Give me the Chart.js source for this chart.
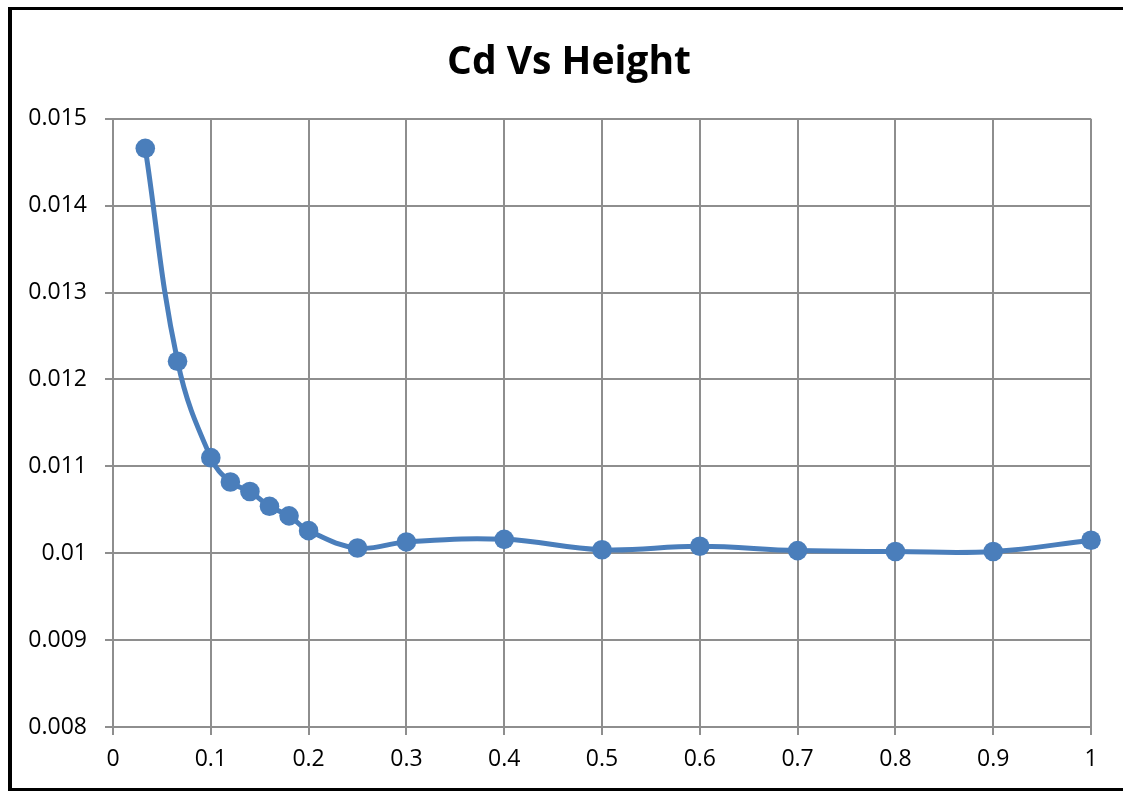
<!DOCTYPE html>
<html>
<head>
<meta charset="utf-8">
<title>Cd Vs Height</title>
<script src="https://cdn.jsdelivr.net/npm/chart.js@4.4.1/dist/chart.umd.min.js"></script>
<style>
  html, body { margin: 0; padding: 0; background: #fff; overflow: hidden; }
  #wrap { position: relative; width: 1123px; height: 792px; }
  #frame {
    position: absolute; left: 8px; top: 7px; width: 1200px; height: 778px;
    border-left: 4px solid #000; border-top: 3px solid #000; border-bottom: 3px solid #000;
  }
  #chart-cd { position: absolute; left: 0; top: 0; }
</style>
</head>
<body>
<div id="wrap">
  <div id="frame"></div>
  <canvas id="chart-cd" width="1123" height="792"></canvas>
</div>
<script>
// Valores
const heights = [0.033, 0.066, 0.1, 0.12, 0.14, 0.16, 0.18, 0.2, 0.25, 0.3, 0.4, 0.5, 0.6, 0.7, 0.8, 0.9, 1];
const cdValues = [0.01466, 0.01221, 0.01110, 0.01082, 0.01071, 0.01054, 0.01043, 0.01026,
                  0.01006, 0.01013, 0.01016, 0.01004, 0.01008, 0.01003, 0.01002, 0.01002, 0.01015];

// Ejes
const xTickValues = [0, 0.1, 0.2, 0.3, 0.4, 0.5, 0.6, 0.7, 0.8, 0.9, 1];
const xTickLabels = ['0', '0.1', '0.2', '0.3', '0.4', '0.5', '0.6', '0.7', '0.8', '0.9', '1'];
const yTickValues = [0.008, 0.009, 0.010, 0.011, 0.012, 0.013, 0.014, 0.015];
const yTickLabels = ['0.008', '0.009', '0.01', '0.011', '0.012', '0.013', '0.014', '0.015'];

const chartTitle = 'Cd Vs Height';

const gridColor = '#8e8e8e';
const lineColor = '#4a7ebb';
const tickFont = { family: '"Open Sans", sans-serif', size: 23 };

const ctx = document.getElementById('chart-cd');

new Chart(ctx, {
  type: 'scatter',
  data: {
    datasets: [{
      label: 'Cd',
      data: heights.map((h, i) => ({ x: h, y: cdValues[i] })),
      showLine: true,
      tension: 0.4,
      borderColor: lineColor,
      backgroundColor: lineColor,
      borderWidth: 5,
      pointRadius: 9.8,
      pointBorderWidth: 0,
      pointBackgroundColor: lineColor,
      clip: false
    }]
  },
  options: {
    responsive: false,
    animation: false,
    layout: {
      padding: { left: 20, right: 5, top: 0, bottom: 0 }
    },
    plugins: {
      legend: { display: false },
      tooltip: { enabled: false },
      title: {
        display: true,
        text: chartTitle,
        color: '#000',
        font: { family: '"Open Sans", sans-serif', size: 39, weight: 'bold', lineHeight: 1.2 },
        padding: { top: 39, bottom: 33 }
      }
    },
    scales: {
      x: {
        type: 'linear',
        min: 0,
        max: 1,
        afterBuildTicks: (scale) => { scale.ticks = xTickValues.map(v => ({ value: v })); },
        afterFit: (scale) => { scale.height = 65; },
        ticks: {
          color: '#000',
          font: tickFont,
          padding: 11,
          maxRotation: 0,
          autoSkip: false,
          callback: (v, i) => xTickLabels[i]
        },
        grid: { color: gridColor, lineWidth: 2, tickLength: 8, drawTicks: true },
        border: { color: gridColor, width: 2 }
      },
      y: {
        type: 'linear',
        position: 'left',
        min: 0.008,
        max: 0.015,
        afterBuildTicks: (scale) => { scale.ticks = yTickValues.map(v => ({ value: v })); },
        afterFit: (scale) => { scale.width = 93; },
        ticks: {
          color: '#000',
          font: tickFont,
          padding: 18,
          autoSkip: false,
          callback: (v, i) => yTickLabels[i]
        },
        grid: { color: gridColor, lineWidth: 2, tickLength: 8, drawTicks: true },
        border: { color: gridColor, width: 2 }
      },
      // espacio vacio a la derecha (el marco original sigue fuera de la imagen)
      yRight: {
        type: 'linear',
        position: 'right',
        display: true,
        afterFit: (scale) => { scale.width = 27; },
        ticks: { display: false },
        grid: { display: false },
        border: { display: false }
      }
    }
  }
});
</script>
</body>
</html>
